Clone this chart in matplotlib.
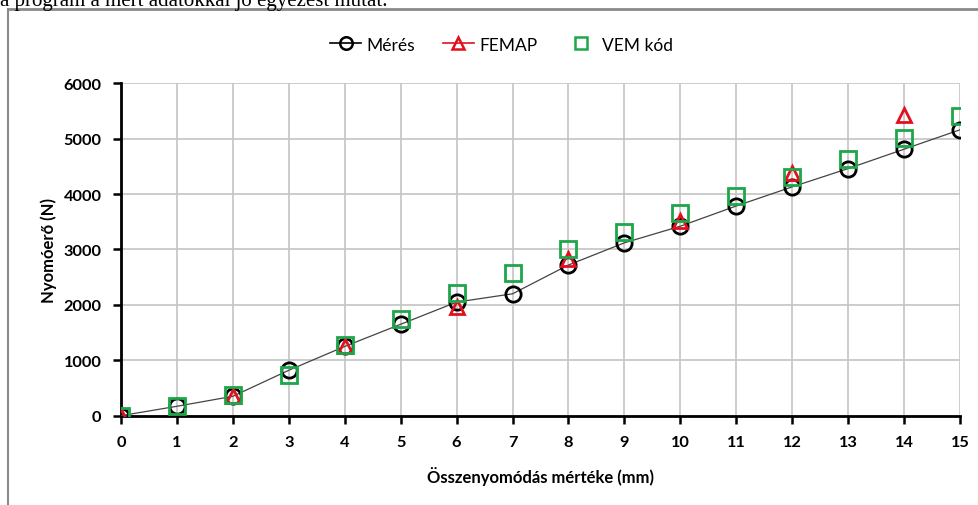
import matplotlib.pyplot as plt
from matplotlib.lines import Line2D

# compression (mm) and measured / simulated force (N)
x_meres = [0, 1, 2, 3, 4, 5, 6, 7, 8, 9, 10, 11, 12, 13, 14, 15]
y_meres = [0, 170, 350, 820, 1250, 1650, 2050, 2200, 2720, 3120, 3420, 3785, 4130, 4460, 4810, 5160]

x_femap = [0, 2, 4, 6, 8, 10, 12, 14]
y_femap = [0, 350, 1250, 1970, 2820, 3520, 4380, 5420]

x_vem = [0, 1, 2, 3, 4, 5, 6, 7, 8, 9, 10, 11, 12, 13, 14, 15]
y_vem = [0, 180, 380, 730, 1270, 1740, 2220, 2570, 3000, 3310, 3650, 3960, 4300, 4640, 5020, 5410]

xticks = list(range(0, 16))
yticks = [0, 1000, 2000, 3000, 4000, 5000, 6000]

red = '#e2101e'
green = '#1ea64a'
font = ['Lato', 'DejaVu Sans']

fig = plt.figure(figsize=(9.79, 5.06), dpi=100)
ax = fig.add_axes([0.1236, 0.1765, 0.857, 0.657])

ax.plot(x_meres, y_meres, '-', color='#444444', linewidth=0.9, zorder=3)
ax.plot(x_meres, y_meres, 'o', mfc='none', mec='black', ms=11, mew=2, zorder=4)
ax.plot(x_femap, y_femap, '^', mfc='none', mec=red, ms=10, mew=2, zorder=5)
ax.plot(x_vem, y_vem, 's', mfc='none', mec=green, ms=11, mew=2, zorder=6)

ax.set_xlim(0, 15)
ax.set_ylim(0, 6000)
ax.set_xticks(xticks)
ax.set_yticks(yticks)
ax.grid(True, color='#c4c4c4', linewidth=1.2)
ax.set_axisbelow(True)
ax.spines['top'].set_visible(False)
ax.spines['right'].set_visible(False)
ax.spines['left'].set_linewidth(2)
ax.spines['bottom'].set_linewidth(2)
ax.tick_params(axis='both', direction='out', length=6, width=1.8, pad=8)
for lab in ax.get_xticklabels() + ax.get_yticklabels():
    lab.set_family(font)
    lab.set_fontweight('bold')
    lab.set_fontsize(11.8)

ax.set_xlabel('Összenyomódás mértéke (mm)', family=font, fontweight='bold', fontsize=12, labelpad=12)
ax.set_ylabel('Nyomóerő (N)', family=font, fontweight='bold', fontsize=12, labelpad=5)

handles = [
    Line2D([], [], color='black', linewidth=1.2, marker='o', mfc='none', mec='black', ms=9, mew=1.8),
    Line2D([], [], color=red, linewidth=1.2, marker='^', mfc='none', mec=red, ms=9, mew=1.8),
    Line2D([], [], linestyle='none', marker='s', mfc='none', mec=green, ms=9, mew=1.8),
]
fig.legend(handles, ['Mérés', 'FEMAP', 'VEM kód'], loc='center', bbox_to_anchor=(0.512, 0.91),
           ncol=3, frameon=False, prop={'family': font, 'size': 12.5},
           handlelength=1.8, handletextpad=0.3, columnspacing=1.6)

# surrounding frame and the clipped sentence above it
fig.add_artist(Line2D([8 / 979, 1], [496 / 506, 496 / 506], color='#8a8a8a', linewidth=2))
fig.add_artist(Line2D([8 / 979, 8 / 979], [0, 496 / 506], color='#8a8a8a', linewidth=1.5))
fig.text(0.0, 500 / 506, 'a program a mért adatokkal jó egyezést mutat.',
         family='Liberation Serif', fontsize=15, va='baseline', ha='left')

fig.savefig('out.png', dpi=100)
